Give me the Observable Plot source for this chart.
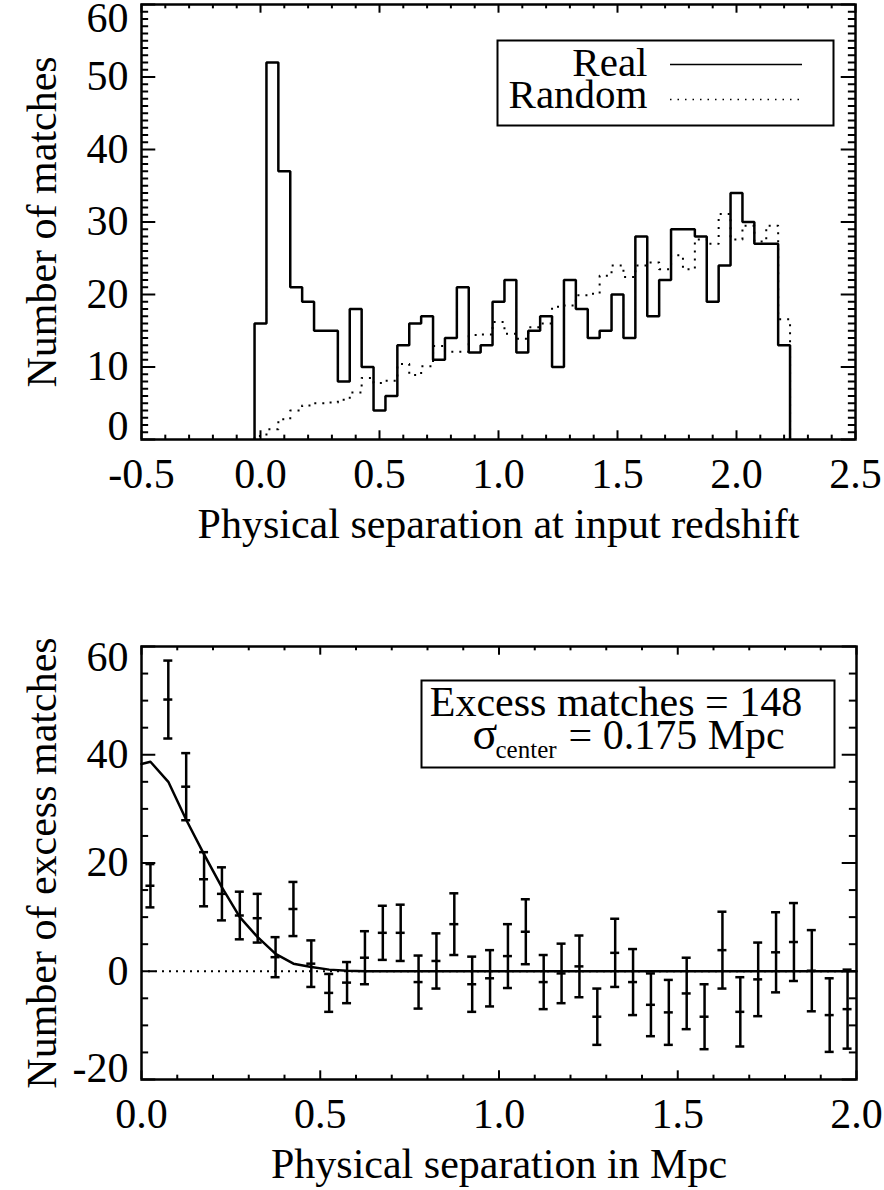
<!DOCTYPE html>
<html><head><meta charset="utf-8">
<script src="https://cdn.jsdelivr.net/npm/d3@7"></script>
<script src="https://cdn.jsdelivr.net/npm/@observablehq/plot@0.6"></script>
<style>
html,body{margin:0;padding:0;background:#fff;}
#chart svg{display:block;}
</style></head><body><div id="chart"></div>
<script>
// ---------- Top panel data ----------
const binCenters = [0.00,0.05,0.10,0.15,0.20,0.25,0.30,0.35,0.40,0.45,0.50,0.55,0.60,0.65,0.70,0.75,0.80,0.85,0.90,0.95,1.00,1.05,1.10,1.15,1.20,1.25,1.30,1.35,1.40,1.45,1.50,1.55,1.60,1.65,1.70,1.75,1.80,1.85,1.90,1.95,2.00,2.05,2.10,2.15,2.20];
const binWidth = 0.05;
const realCounts = [16,52,37,21,19,15,15,8,18,10,4,6,13,16,17,11,14,21,12,13,19,22,12,15,17,10,22,18,14,15,20,14,28,17,22,29,29,28,19,24,34,30,27,27,13];
const randomCounts = [0.5,1.4,2.8,4.0,4.7,5.0,5.1,5.5,6.5,8.5,7.8,8.1,10.4,8.9,10.1,12.9,12.1,12.1,14.4,14.5,16.2,14.6,13.9,15.5,16.0,18.3,18.5,19.9,20.1,22.6,24.0,22.4,24.0,24.4,23.5,25.4,23.5,27.6,27.0,31.1,27.6,29.5,27.3,29.5,16.6];
const topXTicks = [-0.5,0.0,0.5,1.0,1.5,2.0,2.5];
const topYTicks = [0,10,20,30,40,50,60];
const legendLabels = ["Real","Random"];
const topXTitle = "Physical separation at input redshift";
const topYTitle = "Number of matches";

// ---------- Bottom panel data ----------
const excessX = [0.025,0.075,0.125,0.175,0.225,0.275,0.325,0.375,0.425,0.475,0.525,0.575,0.625,0.675,0.725,0.775,0.825,0.875,0.925,0.975,1.025,1.075,1.125,1.175,1.225,1.275,1.325,1.375,1.425,1.475,1.525,1.575,1.625,1.675,1.725,1.775,1.825,1.875,1.925,1.975];
const excessY = [15.8,50.2,34.1,17.0,14.3,10.3,9.8,2.6,11.5,1.4,-4.0,-2.1,2.5,7.1,7.1,-2.0,1.9,8.7,-2.4,-1.3,2.8,7.3,-2.0,-0.4,0.9,-8.4,3.4,-2.0,-6.2,-7.6,-4.1,-8.4,3.9,-7.5,-1.5,3.5,5.4,0.1,-8.1,-7.0];
const excessErr = [4.0,7.2,6.2,5.0,4.9,4.4,4.5,3.7,5.0,4.3,3.5,3.8,4.9,5.0,5.2,4.9,5.1,5.7,5.1,5.2,5.9,6.0,5.0,5.5,5.7,5.2,6.3,6.1,5.8,6.0,6.6,6.0,7.1,6.4,6.8,7.4,7.2,7.5,6.8,7.3];
const fitX = [0.0,0.025,0.075,0.125,0.175,0.225,0.275,0.325,0.375,0.425,0.475,0.525,0.575,0.625,2.0];
const fitY = [38.3,38.7,35.0,28.0,21.6,15.5,10.0,6.3,3.2,1.4,0.8,0.3,0.1,0.0,0.0];
const botXTicks = [0.0,0.5,1.0,1.5,2.0];
const botYTicks = [-20,0,20,40,60];
const boxLine1 = "Excess matches = 148";
const boxSigma = "σ";
const boxSub = "center";
const boxLine2 = "= 0.175 Mpc";
const botXTitle = "Physical separation in Mpc";
const botYTitle = "Number of excess matches";

// ---------- helpers ----------
const FONT = "'Liberation Serif','Times New Roman',Times,serif";
const FS = 42;

function stepOutline(centers, values, w) {
  const pts = [{x: centers[0] - w/2, y: 0}];
  centers.forEach((c, i) => pts.push({x: c - w/2, y: values[i]}));
  const end = centers[centers.length-1] + w/2;
  pts.push({x: end, y: values[values.length-1]});
  pts.push({x: end, y: 0});
  return pts;
}

function frameTicks(xMaj, xMin, yMaj, yMin, fw, fh) {
  const xl = 0.02*fh, yl = 0.02*fw, sw = 2;
  const tx = (v, len, side) => Plot.tickX(v, {x: d => d, strokeWidth: sw, [side]: fh - len});
  const ty = (v, len, side) => Plot.tickY(v, {y: d => d, strokeWidth: sw, [side]: fw - len});
  return [
    tx(xMaj, xl, "insetTop"), tx(xMaj, xl, "insetBottom"),
    tx(xMin, xl/2, "insetTop"), tx(xMin, xl/2, "insetBottom"),
    ty(yMaj, yl, "insetRight"), ty(yMaj, yl, "insetLeft"),
    ty(yMin, yl/2, "insetRight"), ty(yMin, yl/2, "insetLeft")
  ];
}

function yLabels(ticks, shiftTop, shiftBottom) {
  const common = {anchor: "left", tickSize: 0, tickPadding: 13, fontSize: FS, fontFamily: FONT, label: null, tickFormat: d => String(d)};
  const lo = ticks[0], hi = ticks[ticks.length-1];
  return [
    Plot.axisY(ticks.slice(1, -1), common),
    Plot.axisY([lo], {...common, dy: -shiftBottom}),
    Plot.axisY([hi], {...common, dy: shiftTop})
  ];
}

const chart = document.getElementById("chart");

// ---------- Top panel ----------
{
  const W = 884, H = 595, mL = 141, mR = 29, mT = 4, mB = 156;
  const fw = W - mL - mR, fh = H - mT - mB;
  const xMinor = d3.range(-0.5, 2.5001, 0.1).map(v => +v.toFixed(2)).filter(v => !topXTicks.some(t => Math.abs(t - v) < 1e-6));
  const yMinor = d3.range(0, 61, 1).filter(v => v % 10 !== 0);
  const real = stepOutline(binCenters, realCounts, binWidth);
  const rand = stepOutline(binCenters, randomCounts, binWidth);
  const p = Plot.plot({
    width: W, height: H, marginLeft: mL, marginRight: mR, marginTop: mT, marginBottom: mB,
    x: {domain: [-0.5, 2.5]},
    y: {domain: [0, 60]},
    style: {fontFamily: FONT, background: "white", color: "black", overflow: "visible"},
    marks: [
      Plot.line(rand, {x: "x", y: "y", curve: "step-after", stroke: "black", strokeWidth: 2, strokeDasharray: "2 6", strokeLinecap: "butt"}),
      Plot.line(real, {x: "x", y: "y", curve: "step-after", stroke: "black", strokeWidth: 2.5, strokeLinejoin: "miter", strokeLinecap: "butt"}),
      ...frameTicks(topXTicks, xMinor, topYTicks, yMinor, fw, fh),
      Plot.frame({stroke: "black", strokeWidth: 2.5}),
      Plot.axisX(topXTicks, {anchor: "bottom", tickSize: 0, tickPadding: 19, fontSize: FS, fontFamily: FONT, label: null, tickFormat: d => d.toFixed(1)}),
      ...yLabels(topYTicks, 14, 13),
      Plot.text([topXTitle], {frameAnchor: "bottom", textAnchor: "middle", lineAnchor: "bottom", dy: 98, fontSize: FS, fontFamily: FONT, text: d => d}),
      Plot.text([topYTitle], {frameAnchor: "left", textAnchor: "middle", rotate: -90, lineAnchor: "bottom", dx: -86, fontSize: FS, fontFamily: FONT, text: d => d}),
      // legend box
      Plot.frame({stroke: "black", strokeWidth: 2, insetLeft: 356, insetRight: 22, insetTop: 36, insetBottom: 314}),
      Plot.text([legendLabels[0]], {frameAnchor: "top-left", textAnchor: "end", lineAnchor: "bottom", dx: 506, dy: 71, fontSize: 41, fontFamily: FONT, text: d => d}),
      Plot.text([legendLabels[1]], {frameAnchor: "top-left", textAnchor: "end", lineAnchor: "bottom", dx: 506, dy: 103, fontSize: 41, fontFamily: FONT, text: d => d}),
      Plot.ruleY([60], {dy: 60, insetLeft: 529, insetRight: 53, stroke: "black", strokeWidth: 1.5}),
      Plot.ruleY([60], {dy: 95, insetLeft: 529, insetRight: 53, stroke: "black", strokeWidth: 1.5, strokeDasharray: "1.5 6"})
    ]
  });
  chart.appendChild(p);
}

// ---------- Bottom panel ----------
{
  const W = 884, H = 595, mL = 141, mR = 28, mT = 51, mB = 111;
  const fw = W - mL - mR, fh = H - mT - mB;
  const xMinor = d3.range(0, 2.0001, 0.1).map(v => +v.toFixed(2)).filter(v => !botXTicks.some(t => Math.abs(t - v) < 1e-6));
  const yMinor = d3.range(-20, 61, 5).filter(v => v % 20 !== 0);
  const pts = excessX.map((x, i) => ({x, y: excessY[i], lo: excessY[i] - excessErr[i], hi: excessY[i] + excessErr[i]}));
  const fit = fitX.map((x, i) => ({x, y: fitY[i]}));
  const cap = {x1: "x", x2: "x", insetLeft: -4.5, insetRight: -4.5, stroke: "black", strokeWidth: 2.5};
  const p = Plot.plot({
    width: W, height: H, marginLeft: mL, marginRight: mR, marginTop: mT, marginBottom: mB,
    x: {domain: [0, 2]},
    y: {domain: [-20, 60]},
    style: {fontFamily: FONT, background: "white", color: "black", overflow: "visible"},
    marks: [
      Plot.ruleY([0], {stroke: "black", strokeWidth: 2, strokeDasharray: "2 5"}),
      Plot.line(fit, {x: "x", y: "y", stroke: "black", strokeWidth: 2.5}),
      Plot.ruleX(pts, {x: "x", y1: "lo", y2: "hi", stroke: "black", strokeWidth: 2.5}),
      Plot.ruleY(pts, {...cap, y: "lo"}),
      Plot.ruleY(pts, {...cap, y: "hi"}),
      Plot.ruleY(pts, {...cap, y: "y"}),
      ...frameTicks(botXTicks, xMinor, botYTicks, yMinor, fw, fh),
      Plot.frame({stroke: "black", strokeWidth: 2.5}),
      Plot.axisX(botXTicks, {anchor: "bottom", tickSize: 0, tickPadding: 19, fontSize: FS, fontFamily: FONT, label: null, tickFormat: d => d.toFixed(1)}),
      ...yLabels(botYTicks, 11, 11),
      Plot.text([botXTitle], {frameAnchor: "bottom", textAnchor: "middle", lineAnchor: "bottom", dy: 98, fontSize: FS, fontFamily: FONT, text: d => d}),
      Plot.text([botYTitle], {frameAnchor: "left", textAnchor: "middle", rotate: -90, lineAnchor: "bottom", dx: -86, fontSize: FS, fontFamily: FONT, text: d => d}),
      // annotation box
      Plot.frame({stroke: "black", strokeWidth: 2, insetLeft: 280, insetRight: 22, insetTop: 34, insetBottom: 312}),
      Plot.text([boxLine1], {frameAnchor: "top-left", textAnchor: "middle", lineAnchor: "bottom", dx: 474.5, dy: 69, fontSize: FS, fontFamily: FONT, text: d => d}),
      Plot.text([boxSigma], {frameAnchor: "top-left", textAnchor: "start", lineAnchor: "bottom", dx: 331, dy: 102, fontSize: FS + 4, fontFamily: FONT, text: d => d}),
      Plot.text([boxSub], {frameAnchor: "top-left", textAnchor: "start", lineAnchor: "bottom", dx: 354, dy: 111, fontSize: 25, fontFamily: FONT, text: d => d}),
      Plot.text([boxLine2], {frameAnchor: "top-left", textAnchor: "start", lineAnchor: "bottom", dx: 427, dy: 102, fontSize: FS, fontFamily: FONT, text: d => d})
    ]
  });
  chart.appendChild(p);
}
</script>
</body></html>
